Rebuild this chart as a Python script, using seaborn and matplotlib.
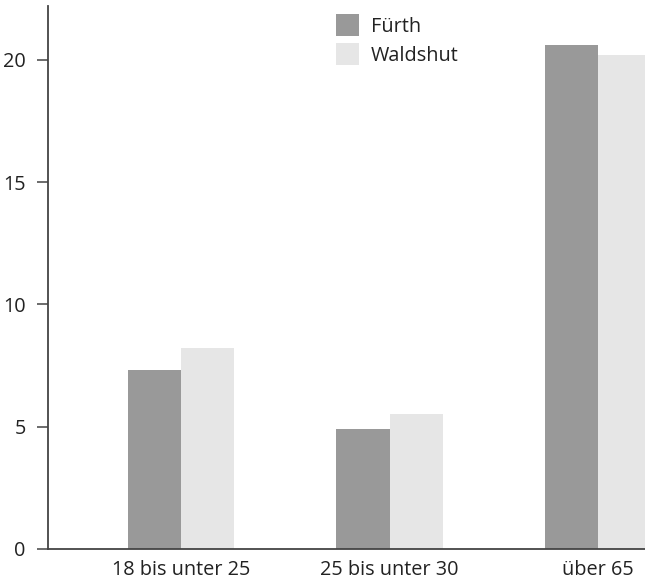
import pandas as pd
import seaborn as sns
import matplotlib.pyplot as plt

# data
altersgruppen = ["18 bis unter 25", "25 bis unter 30", "über 65"]
fuerth = [7.3, 4.9, 20.6]
waldshut = [8.2, 5.5, 20.2]
orte = ["Fürth", "Waldshut"]

df = pd.DataFrame({
    "Alter": altersgruppen * 2,
    "Wert": fuerth + waldshut,
    "Ort": [orte[0]] * 3 + [orte[1]] * 3,
})

sns.set_style("white")
plt.rcParams['font.family'] = ['Open Sans', 'DejaVu Sans']
fs = 14.3

fig = plt.figure(figsize=(6.45, 5.83), dpi=100)
ax = fig.add_axes([48/645, 1 - 549/583, 1 - 48/645, (549 - 6)/583])

sns.barplot(data=df, x="Alter", y="Wert", hue="Ort", order=altersgruppen,
            hue_order=orte, palette=["#999999", "#e6e6e6"], width=0.51,
            saturation=1, linewidth=0, ax=ax)

ax.set_xlim(-0.638, 2.225)
ax.set_ylim(0, 22.2)
ax.set_yticks([0, 5, 10, 15, 20])
ax.set_xlabel("")
ax.set_ylabel("")
for s in ["top", "right"]:
    ax.spines[s].set_visible(False)
for s in ["left", "bottom"]:
    ax.spines[s].set_color("#444444")
    ax.spines[s].set_linewidth(1.3)
ax.tick_params(axis="y", length=8, width=1.1, color="#444444", labelsize=fs,
               labelcolor="#222222", pad=8, left=True)
ax.tick_params(axis="x", length=0, labelsize=fs, labelcolor="#222222", pad=8)

h, l = ax.get_legend_handles_labels()
ax.legend(h, l, loc="upper left", bbox_to_anchor=(336/645, 1 - 14/583),
          bbox_transform=fig.transFigure, frameon=False, borderaxespad=0,
          borderpad=0, handlelength=1.15, handleheight=1.35, handletextpad=0.6,
          labelspacing=0.3, fontsize=fs, labelcolor="#222222")

fig.savefig("out.png", dpi=100)
